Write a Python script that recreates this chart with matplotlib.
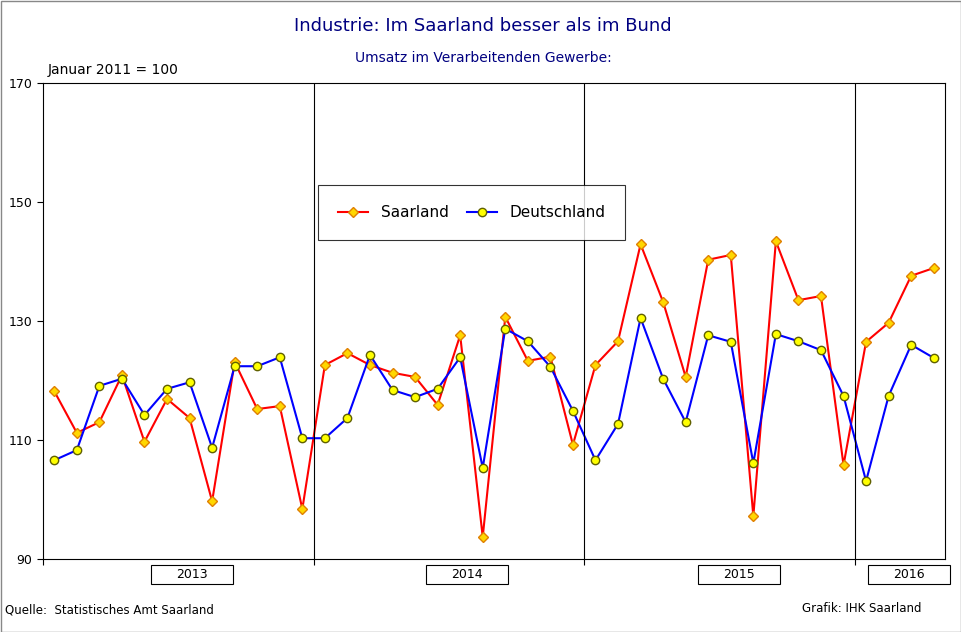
import matplotlib
matplotlib.use("Agg")
import matplotlib.pyplot as plt
from matplotlib.patches import Rectangle

years = ["2013", "2014", "2015", "2016"]
saarland = [118.2,111.2,113.0,120.9,109.7,116.9,113.7,99.7,123.1,115.2,115.7,98.4,
            122.6,124.6,122.6,121.3,120.6,115.9,127.6,93.7,130.7,123.3,124.0,109.2,
            122.6,126.6,142.9,133.2,120.6,140.3,141.1,97.2,143.4,133.5,134.2,105.8,
            126.5,129.7,137.6,138.9]
deutschland = [106.6,108.3,119.1,120.3,114.2,118.6,119.7,108.7,122.4,122.4,123.9,110.3,
               110.3,113.7,124.3,118.4,117.2,118.6,123.9,105.3,128.7,126.6,122.3,114.9,
               106.6,112.7,130.5,120.3,113.0,127.6,126.5,106.1,127.8,126.6,125.1,117.4,
               103.1,117.4,126.0,123.8]

W, H = 962, 632
fig = plt.figure(figsize=(W/100, H/100), dpi=100)
fig.patches.append(Rectangle((0.5/W, 0.5/H), 1-1/W, 1-1/H, transform=fig.transFigure,
                             fill=False, edgecolor="#888888", lw=1))
ax = fig.add_axes([43/W, (H-559)/H, 902/W, 476/H])
x = [i + 0.5 for i in range(len(saarland))]
ax.plot(x, saarland, color="red", lw=1.5, marker="D", ms=5, mfc="#FFD700", mec="#E08000", label="Saarland")
ax.plot(x, deutschland, color="blue", lw=1.5, marker="o", ms=6, mfc="#FFFF00", mec="#606000", label="Deutschland")
ax.set_xlim(0, 40)
ax.set_ylim(90, 170)
ax.set_yticks([90, 110, 130, 150, 170])
ax.tick_params(axis="y", labelsize=9, length=4)
ax.set_xticks([0, 12, 24, 36])
ax.set_xticklabels([])
ax.tick_params(axis="x", length=4)
for b in [12, 24, 36]:
    ax.axvline(b, color="black", lw=0.8)
for s in ax.spines.values():
    s.set_linewidth(0.8)
centers = [6.6, 18.8, 30.85, 38.4]
bw = 82 / 22.55
tr = ax.get_xaxis_transform()
for c, yl in zip(centers, years):
    ax.add_patch(Rectangle((c - bw/2, -25/476), bw, 19/476, transform=tr, fill=True,
                           fc="white", ec="black", lw=0.8, clip_on=False))
    ax.text(c, -15.5/476, yl, transform=tr, ha="center", va="center", fontsize=9)
leg = ax.legend(loc="upper left", bbox_to_anchor=((318-43)/902, (559-185)/476), ncol=2,
                fontsize=11, frameon=True, fancybox=False, edgecolor="black",
                borderpad=1.3, handlelength=2, columnspacing=1.2, borderaxespad=0)
leg.get_frame().set_linewidth(0.8)
fig.text(483/W, 1-26/H, "Industrie: Im Saarland besser als im Bund", ha="center", va="center",
         fontsize=13, color="#000080")
fig.text(483/W, 1-58/H, "Umsatz im Verarbeitenden Gewerbe:", ha="center", va="center",
         fontsize=10, color="#000080")
fig.text(48/W, 1-70/H, "Januar 2011 = 100", ha="left", va="center", fontsize=10)
fig.text(5/W, 1-610/H, "Quelle:  Statistisches Amt Saarland", ha="left", va="center", fontsize=8.5)
fig.text(922/W, 1-609/H, "Grafik: IHK Saarland", ha="right", va="center", fontsize=8.5)
fig.savefig("out.png", dpi=100)
